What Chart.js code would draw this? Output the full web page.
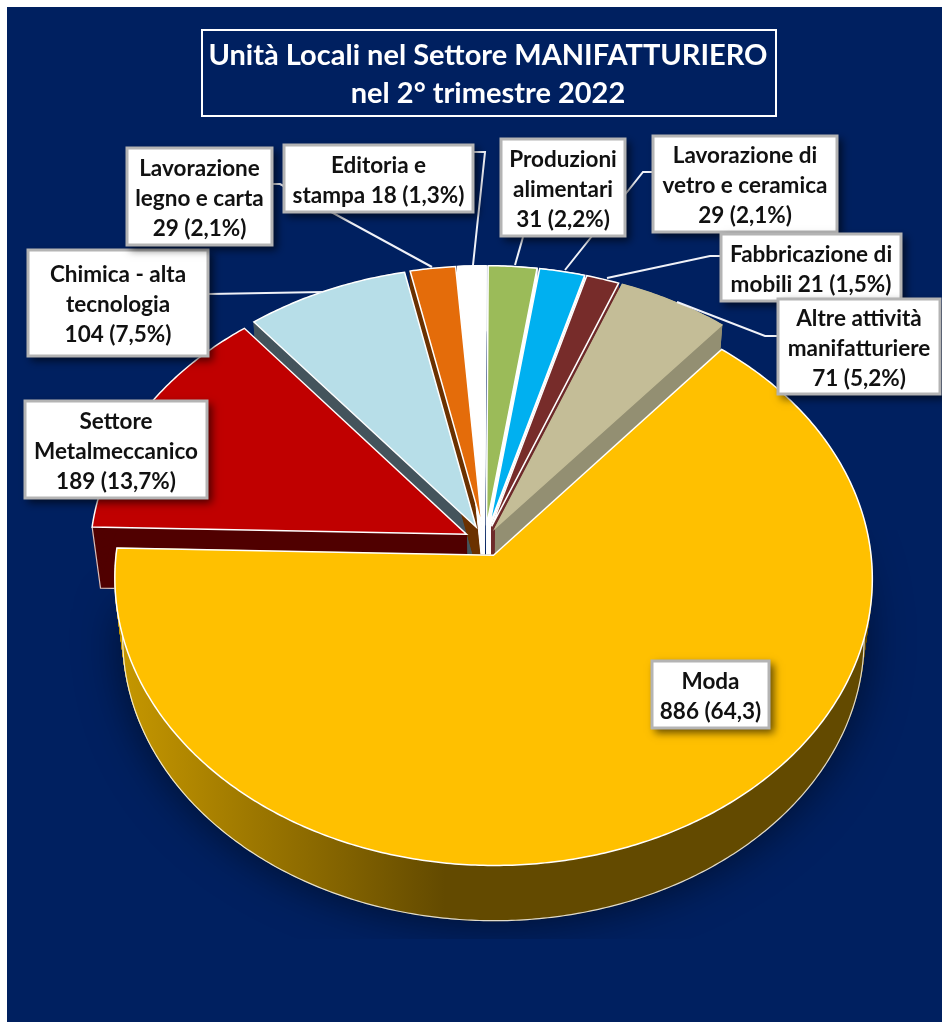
<!DOCTYPE html>
<html>
<head>
<meta charset="utf-8">
<style>
  html, body { margin: 0; padding: 0; background: #fff; }
  canvas { display: block; }
</style>
<script src="https://cdn.jsdelivr.net/npm/chart.js@4/dist/chart.umd.min.js"></script>
</head>
<body>
<canvas id="pieChart" width="942" height="1022"></canvas>
<script>
var categories = ['Moda', 'Settore Metalmeccanico', 'Chimica - alta tecnologia', 'Lavorazione legno e carta',
    'Editoria e stampa', 'Produzioni alimentari', 'Lavorazione di vetro e ceramica', 'Fabbricazione di mobili', 'Altre attività manifatturiere'];
var values = [886, 189, 104, 29, 18, 31, 29, 21, 71];
var sliceColors = ['#FFC000', '#C00000', '#B7DEE8', '#E46C0A', '#FFFFFF', '#9BBB59', '#00B0F0', '#772C2A', '#C4BD97'];
var wallColors = ['#634A00', '#500000', '#44545C', '#6B3100', '#FFFFFF', '#FFFFFF', '#FFFFFF', '#6E2A2A', '#938F72'];
var titleLines = ['Unità Locali nel Settore MANIFATTURIERO', 'nel 2° trimestre 2022'];
var labelLines = [
    ['Moda', '886 (64,3)'],
    ['Settore', 'Metalmeccanico', '189 (13,7%)'],
    ['Chimica - alta', 'tecnologia', '104 (7,5%)'],
    ['Lavorazione', 'legno e carta', '29 (2,1%)'],
    ['Editoria e', 'stampa 18 (1,3%)'],
    ['Produzioni', 'alimentari', '31 (2,2%)'],
    ['Lavorazione di', 'vetro e ceramica', '29 (2,1%)'],
    ['Fabbricazione di', 'mobili 21 (1,5%)'],
    ['Altre attività', 'manifatturiere', '71 (5,2%)']
];

// label layout: x1, y1, x2, y2 of each box
var labelBoxes = [
    [651, 660, 770, 729], [24, 400, 208, 499], [27, 249, 209, 357],
    [126, 147, 273, 246], [283, 144, 474, 213], [500, 138, 626, 237],
    [652, 135, 838, 233], [720, 233, 902, 302], [777, 298, 941, 395]
];
var leaderLines = [
    null, null,
    [[209, 294], [323, 292]],
    [[273, 184], [280, 184], [432, 267]],
    [[474, 152], [485, 152], [473, 265]],
    [[523, 237], [515, 265]],
    [[652, 172], [643, 172], [565, 270]],
    [[720, 256], [710, 256], [607, 278]],
    [[777, 336], [765, 336], [677, 302]]
];

// perspective of the tilted pie, unit circle -> screen
var explode = 0.055;
var tilt = 0.08;
var top3d = { cx: 485, cy: 541, rx: 376, ry: 283 };
var bottom3d = { cx: 485, cy: 602, rx: 368, ry: 278 };
// back slices are painted in this order, the left ones last
var wallOrder = [6, 5, 7, 8, 2, 3, 4, 1];

function project(plane, u, v) {
    var w = 1 - tilt * v;
    return [plane.cx + plane.rx * u / w, plane.cy + plane.ry * v / w];
}

// outline of a slice (apex, then outer arc) in unit coordinates
function sliceOutline(arc) {
    var mid = (arc.startAngle + arc.endAngle) / 2;
    var ox = explode * Math.cos(mid), oy = explode * Math.sin(mid);
    var pts = [[ox, oy]];
    var steps = Math.max(2, Math.ceil((arc.endAngle - arc.startAngle) / 0.01));
    for (var i = 0; i <= steps; i++) {
        var a = arc.startAngle + (arc.endAngle - arc.startAngle) * i / steps;
        pts.push([ox + Math.cos(a), oy + Math.sin(a)]);
    }
    return pts;
}

function tracePoly(ctx, plane, pts, open) {
    ctx.beginPath();
    pts.forEach(function (p, i) {
        var s = project(plane, p[0], p[1]);
        if (i === 0) ctx.moveTo(s[0], s[1]); else ctx.lineTo(s[0], s[1]);
    });
    if (!open) ctx.closePath();
}

function drawWall(ctx, pts, fill) {
    ctx.fillStyle = fill;
    ctx.strokeStyle = fill;
    ctx.lineWidth = 1;
    tracePoly(ctx, bottom3d, pts);
    ctx.fill();
    pts.forEach(function (p, i) {
        var q = pts[(i + 1) % pts.length];
        var a = project(top3d, p[0], p[1]), b = project(top3d, q[0], q[1]);
        var c = project(bottom3d, q[0], q[1]), d = project(bottom3d, p[0], p[1]);
        ctx.beginPath();
        ctx.moveTo(a[0], a[1]); ctx.lineTo(b[0], b[1]); ctx.lineTo(c[0], c[1]); ctx.lineTo(d[0], d[1]);
        ctx.closePath();
        ctx.fill();
        ctx.stroke();
    });
}

function drawTop(ctx, pts, fill, edge) {
    ctx.fillStyle = fill;
    tracePoly(ctx, top3d, pts);
    ctx.fill();
    ctx.strokeStyle = edge;
    ctx.lineWidth = 1.5;
    ctx.stroke();
}

function drawLabel(ctx, box, lines) {
    var w = box[2] - box[0], h = box[3] - box[1];
    ctx.save();
    ctx.shadowColor = 'rgba(0,0,0,0.6)';
    ctx.shadowBlur = 8;
    ctx.shadowOffsetX = 4;
    ctx.shadowOffsetY = 4;
    ctx.fillStyle = '#fff';
    ctx.fillRect(box[0], box[1], w, h);
    ctx.restore();
    ctx.strokeStyle = '#B4B4B4';
    ctx.lineWidth = 3;
    ctx.strokeRect(box[0] + 1, box[1] + 1, w - 2, h - 2);
    ctx.fillStyle = '#111';
    ctx.font = 'bold 22.5px Lato';
    ctx.textAlign = 'center';
    ctx.textBaseline = 'middle';
    var mid = (box[1] + box[3]) / 2 + 2;
    lines.forEach(function (line, i) {
        ctx.fillText(line, (box[0] + box[2]) / 2, mid + (i - (lines.length - 1) / 2) * 30);
    });
}

var pie3d = {
    id: 'pie3d',
    beforeDraw: function (chart) {
        var ctx = chart.ctx;
        ctx.save();
        ctx.fillStyle = '#002060';
        ctx.fillRect(7, 7, 935, 1015);
        ctx.restore();
    },
    beforeDatasetsDraw: function (chart) {
        var ctx = chart.ctx;
        var arcs = chart.getDatasetMeta(0).data;
        var outlines = arcs.map(sliceOutline);
        ctx.save();

        // soft shadow below the pie
        ctx.save();
        ctx.beginPath();
        ctx.rect(7, 530, 935, 409);
        ctx.clip();
        ctx.shadowColor = 'rgba(0,0,0,0.55)';
        ctx.shadowBlur = 45;
        ctx.fillStyle = '#002060';
        tracePoly(ctx, bottom3d, outlines[0]);
        ctx.fill();
        ctx.restore();

        // walls first, then the tops, Moda in front of all
        wallOrder.forEach(function (i) { drawWall(ctx, outlines[i], wallColors[i]); });

        // light edge on the cut face of the Metalmeccanico slice
        var corner = outlines[1][1];
        var c1 = project(top3d, corner[0], corner[1]), c2 = project(bottom3d, corner[0], corner[1]);
        var c3 = project(bottom3d, outlines[1][0][0], outlines[1][0][1]);
        ctx.strokeStyle = 'rgba(255,255,255,0.75)';
        ctx.lineWidth = 1.2;
        ctx.beginPath();
        ctx.moveTo(c1[0], c1[1]); ctx.lineTo(c2[0], c2[1]); ctx.lineTo(c3[0], c3[1]);
        ctx.stroke();

        for (var j = 1; j < arcs.length; j++) {
            drawTop(ctx, outlines[j], arcs[j].options.backgroundColor, arcs[j].options.borderColor);
        }

        var grad = ctx.createLinearGradient(125, 0, 445, 0);
        grad.addColorStop(0, '#C49600');
        grad.addColorStop(1, wallColors[0]);
        drawWall(ctx, outlines[0], grad);
        ctx.strokeStyle = 'rgba(255,255,255,0.8)';
        ctx.lineWidth = 1.2;
        tracePoly(ctx, bottom3d, outlines[0].slice(1), true);
        ctx.stroke();
        drawTop(ctx, outlines[0], arcs[0].options.backgroundColor, arcs[0].options.borderColor);

        // leader lines
        ctx.strokeStyle = '#F0F2F8';
        ctx.lineWidth = 2;
        leaderLines.forEach(function (line) {
            if (!line) return;
            ctx.beginPath();
            line.forEach(function (p, i) {
                if (i === 0) ctx.moveTo(p[0], p[1]); else ctx.lineTo(p[0], p[1]);
            });
            ctx.stroke();
        });

        // title box and labels
        ctx.strokeStyle = '#fff';
        ctx.lineWidth = 2;
        ctx.strokeRect(202, 30, 574, 86);
        ctx.fillStyle = '#fff';
        ctx.font = 'bold 29px Lato';
        ctx.textAlign = 'center';
        ctx.textBaseline = 'middle';
        ctx.fillText(titleLines[0], 488, 56);
        ctx.fillText(titleLines[1], 488, 94);
        labelBoxes.forEach(function (box, i) { drawLabel(ctx, box, labelLines[i]); });

        ctx.restore();
        return false;
    }
};

new Chart(document.getElementById('pieChart').getContext('2d'), {
    type: 'pie',
    data: {
        labels: categories,
        datasets: [{
            data: values,
            backgroundColor: sliceColors,
            borderColor: ['#fff', '#fff', '#fff', '#fff', '#fff', '#fff', '#fff', '#fff', '#C4BD97'],
            borderWidth: 1.5
        }]
    },
    options: {
        responsive: false,
        animation: false,
        rotation: 40,
        plugins: {
            legend: { display: false },
            tooltip: { enabled: false }
        }
    },
    plugins: [pie3d]
});
</script>
</body>
</html>
